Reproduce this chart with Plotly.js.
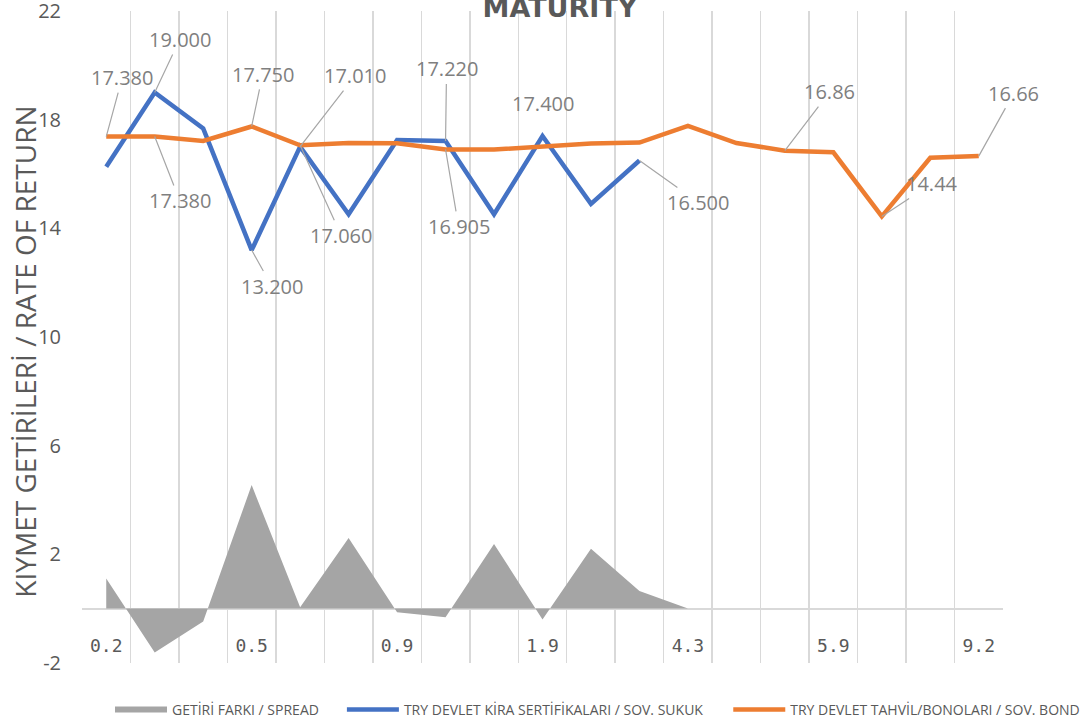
<!DOCTYPE html>
<html>
<head>
<meta charset="utf-8">
<script src="https://cdn.plot.ly/plotly-3.0.1.min.js"></script>
<style>html,body{margin:0;padding:0;background:#fff;}#chart{width:1081px;height:722px;}</style>
</head>
<body>
<div id="chart"></div>
<script>
// ---- data ----
const maturities = ['0.2','0.3','0.4','0.5','0.6','0.7','0.9','1.1','1.4','1.9','2.6','3.5','4.3','4.8','5.3','5.9','7.0','8.1','9.2'];
const shownTickLabels = ['0.2','0.5','0.9','1.9','4.3','5.9','9.2'];
const spread = [1.11, -1.62, -0.47, 4.55, 0.05, 2.60, -0.13, -0.315, 2.38, -0.40, 2.20, 0.65, 0];
const sukuk = [16.27, 19.000, 17.68, 13.200, 17.010, 14.52, 17.25, 17.220, 14.52, 17.400, 14.90, 16.500];
const bond = [17.380, 17.380, 17.22, 17.750, 17.060, 17.14, 17.13, 16.905, 16.90, 17.00, 17.12, 17.16, 17.77, 17.14, 16.86, 16.80, 14.44, 16.60, 16.66];
const yTickValues = [-2, 2, 6, 10, 14, 18, 22];
const seriesNames = ['GETİRİ FARKI / SPREAD', 'TRY DEVLET KİRA SERTİFİKALARI / SOV. SUKUK', 'TRY DEVLET TAHVİL/BONOLARI / SOV. BOND'];
const yTitle = 'KIYMET GETİRİLERİ / RATE OF RETURN';
const chartTitle = 'MATURITY';

// ---- which points carry a data label (index, decimals) and where the label sits (px offsets) ----
const labelSpec = [
  {s:'bond',  i:0,  d:3, ax:16, ay:-59, leader:true},
  {s:'sukuk', i:1,  d:3, ax:25, ay:-53, leader:true},
  {s:'bond',  i:1,  d:3, ax:25, ay:64,  leader:true},
  {s:'sukuk', i:3,  d:3, ax:20, ay:36,  leader:true},
  {s:'bond',  i:3,  d:3, ax:11, ay:-52, leader:true},
  {s:'sukuk', i:4,  d:3, ax:55, ay:-71, leader:true},
  {s:'bond',  i:4,  d:3, ax:41, ay:90,  leader:true},
  {s:'sukuk', i:7,  d:3, ax:1,  ay:-72, leader:true},
  {s:'bond',  i:7,  d:3, ax:13, ay:77,  leader:true},
  {s:'sukuk', i:9,  d:3, ax:0,  ay:-33, leader:false},
  {s:'sukuk', i:11, d:3, ax:59, ay:42,  leader:true},
  {s:'bond',  i:14, d:2, ax:45, ay:-59, leader:true},
  {s:'bond',  i:16, d:2, ax:50, ay:-33, leader:true},
  {s:'bond',  i:18, d:2, ax:35, ay:-63, leader:true}
];

const series = {sukuk: sukuk, bond: bond};
const textGray = '#595959';
const labelGray = '#7f7f7f';

const traces = [
  {
    type:'scatter', mode:'none', name:seriesNames[0],
    x: maturities.slice(0, spread.length), y: spread,
    fill:'tozeroy', fillcolor:'#a5a5a5', line:{width:0, color:'#a5a5a5'},
    legend:'legend', hoverinfo:'skip'
  },
  {
    type:'scatter', mode:'lines', name:seriesNames[1],
    x: maturities.slice(0, sukuk.length), y: sukuk,
    line:{color:'#4472c4', width:4.5},
    legend:'legend2'
  },
  {
    type:'scatter', mode:'lines', name:seriesNames[2],
    x: maturities.slice(0, bond.length), y: bond,
    line:{color:'#ed7d31', width:4.5},
    legend:'legend3'
  }
];

// on a category axis, annotation x is the category's index
const annotations = labelSpec.map(l => {
  const v = series[l.s][l.i];
  const a = {
    x: l.i, y: v, xref:'x', yref:'y',
    text: v.toFixed(l.d),
    font:{family:'Open Sans', size:20, color:labelGray}
  };
  if (l.leader) {
    Object.assign(a, {showarrow:true, ax:l.ax, ay:l.ay, arrowhead:0, arrowwidth:1.2,
      arrowcolor:'#a6a6a6', standoff:0, startstandoff:0});
  } else {
    Object.assign(a, {showarrow:false, xshift:l.ax, yshift:-l.ay});
  }
  return a;
});

annotations.push({
  xref:'paper', yref:'paper', x:-0.0619, y:0.4775, xanchor:'center', yanchor:'middle',
  text:yTitle, textangle:-90, showarrow:false,
  font:{family:'Open Sans', size:28, color:textGray}
});

const legendBase = {
  orientation:'h', xanchor:'left', yanchor:'middle', y:-0.0721,
  font:{family:'Open Sans', size:14, color:textGray},
  bgcolor:'rgba(0,0,0,0)', itemwidth:52
};

const layout = {
  width:1081, height:722,
  margin:{l:82, r:78, t:11, b:59, autoexpand:false},
  paper_bgcolor:'#ffffff', plot_bgcolor:'#ffffff',
  title:{text:chartTitle, x:0.518, xref:'container', xanchor:'center', y:0.99, yref:'container', yanchor:'middle',
         font:{family:'DejaVu Sans', size:27, color:textGray, weight:'bold'}},
  xaxis:{
    type:'category', categoryorder:'array', categoryarray:maturities,
    range:[-0.5, maturities.length - 0.5],
    anchor:'free', position:0.046,
    tickmode:'array', tickvals:maturities,
    ticktext: maturities.map(m => shownTickLabels.includes(m) ? m : ''),
    tickson:'boundaries', ticks:'', showgrid:true, gridcolor:'#d9d9d9', gridwidth:1.5,
    showline:false, zeroline:false, ticklabelposition:'outside',
    tickfont:{family:'DejaVu Sans Mono', size:18, color:textGray}, fixedrange:true
  },
  yaxis:{
    range:[-2.002, 22.002], tickmode:'array', tickvals:yTickValues,
    ticktext: yTickValues.map(v => String(v)),
    showgrid:false, showline:false, ticks:'', ticklabeloverflow:'allow',
    zeroline:true, zerolinecolor:'#d9d9d9', zerolinewidth:2,
    tickfont:{family:'Open Sans', size:20, color:textGray}, ticklabelstandoff:20, fixedrange:true
  },
  showlegend:true,
  legend:Object.assign({}, legendBase, {x:0.0304}),
  legend2:Object.assign({}, legendBase, {x:0.2822}),
  legend3:Object.assign({}, legendBase, {x:0.7017}),
  annotations: annotations
};

Plotly.newPlot('chart', traces, layout, {displayModeBar:false, staticPlot:true});
</script>
</body>
</html>
